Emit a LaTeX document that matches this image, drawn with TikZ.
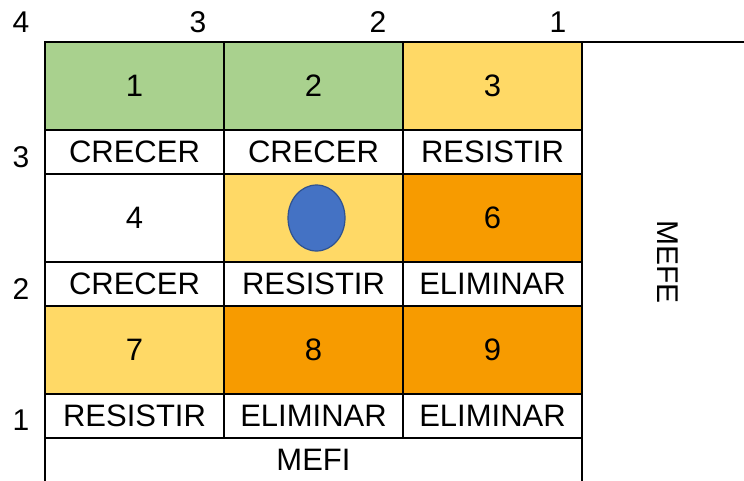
\documentclass[tikz,border=0pt]{standalone}
\usepackage{fontspec}
\setmainfont{Liberation Sans}
\usetikzlibrary{positioning,shapes.geometric}

\definecolor{verde}{HTML}{A9D18E}
\definecolor{amarillo}{HTML}{FFD966}
\definecolor{naranja}{HTML}{F79B00}
\definecolor{azul}{HTML}{4472C4}
\definecolor{azulborde}{HTML}{2F528F}

\begin{document}
\begin{tikzpicture}[x=1pt,y=-1pt,line width=1.5pt,node distance=0pt,
  cell/.style={draw,outer sep=0pt,inner sep=0pt,minimum width=179pt,minimum height=88pt,font=\fontsize{31}{36}\selectfont},
  tag/.style={cell,minimum height=44pt},
  axis/.style={font=\fontsize{30}{36}\selectfont}]
\useasboundingbox (0,0) rectangle (744,480);
% fila superior
\node[cell,fill=verde] (c1) at (134.5,86) {1};
\node[cell,fill=verde,right=of c1] (c2) {2};
\node[cell,fill=amarillo,right=of c2] (c3) {3};
\node[tag,below=of c1] (l1) {CRECER};
\node[tag,below=of c2] (l2) {CRECER};
\node[tag,below=of c3] (l3) {RESISTIR};
% fila media
\node[cell,below=of l1] (c4) {4};
\node[cell,fill=amarillo,below=of l2] (c5) {};
\node[cell,fill=naranja,below=of l3] (c6) {6};
\node[tag,below=of c4] (l4) {CRECER};
\node[tag,below=of c5] (l5) {RESISTIR};
\node[tag,below=of c6] (l6) {ELIMINAR};
% fila inferior
\node[cell,fill=amarillo,below=of l4] (c7) {7};
\node[cell,fill=naranja,below=of l5] (c8) {8};
\node[cell,fill=naranja,below=of l6] (c9) {9};
\node[tag,below=of c7] (l7) {RESISTIR};
\node[tag,below=of c8] (l8) {ELIMINAR};
\node[tag,below=of c9] (l9) {ELIMINAR};
\node[tag,minimum width=537pt,below=of l8] (mefi) {MEFI};
% posicion
\node[ellipse,draw=azulborde,fill=azul,line width=1.2pt,minimum width=57pt,minimum height=66pt,xshift=3pt] (punto) at (c5) {};
% ejes
\coordinate (fin) at (744,42);
\draw (c3.north east) -- (fin);
\node[axis] (x4) at (21,22) {4};
\node[axis] (x3) at (198,22) {3};
\node[axis] (x2) at (378,22) {2};
\node[axis] (x1) at (558,22) {1};
\node[axis] (y3) at (21,157) {3};
\node[axis] (y2) at (21,289) {2};
\node[axis] (y1) at (21,420) {1};
\node[axis,rotate=-90] (mefe) at (668,262) {MEFE};
\end{tikzpicture}
\end{document}
